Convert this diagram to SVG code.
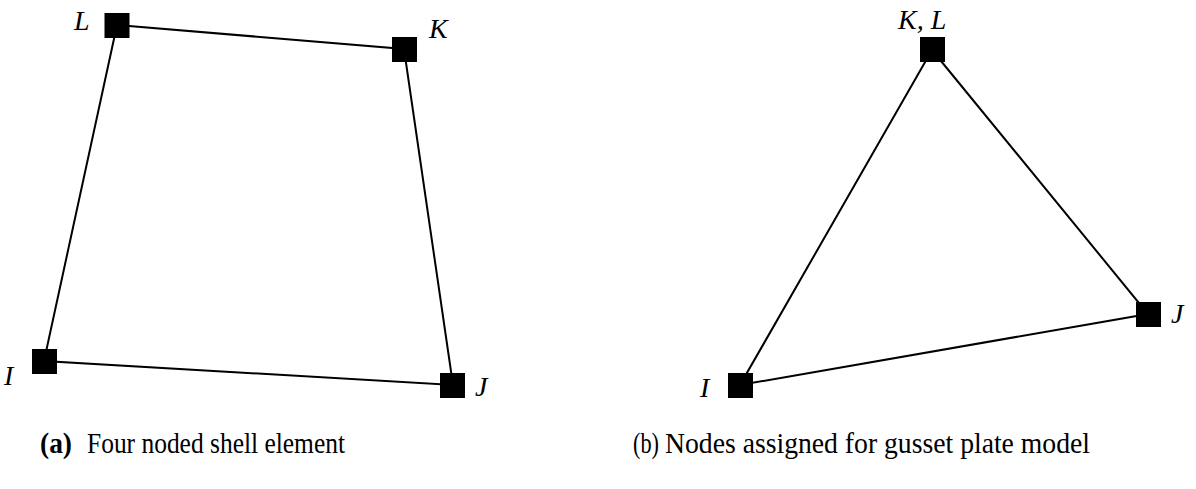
<svg xmlns="http://www.w3.org/2000/svg" width="1196" height="489" viewBox="0 0 1196 489">
<style>
.edge{stroke:#000;stroke-width:2;fill:none}
.nd{fill:#000}
.lbl{font-family:"Liberation Serif",serif;font-style:italic;font-size:28px;fill:#000}
.cap{font-family:"Liberation Serif",serif;font-size:30px;fill:#000}
</style>
<rect width="1196" height="489" fill="#fff"/>
<g id="connectors">
<polyline class="edge" points="117,25 404,49 453,385 44,361 117,25"/>
<polyline class="edge" points="932,50 1148,314 740,385 932,50"/>
</g>
<g id="a-L"><rect class="nd" x="104.5" y="13" width="25" height="25"/><text class="lbl" x="74" y="30">L</text></g>
<g id="a-K"><rect class="nd" x="392" y="37" width="25" height="25"/><text class="lbl" x="429" y="38">K</text></g>
<g id="a-I"><rect class="nd" x="32" y="349" width="25" height="25"/><text class="lbl" x="4" y="385">I</text></g>
<g id="a-J"><rect class="nd" x="440" y="373" width="25" height="25"/><text class="lbl" x="475" y="396">J</text></g>
<g id="b-KL"><rect class="nd" x="920" y="37" width="25" height="25"/><text class="lbl" x="898" y="29">K,  L</text></g>
<g id="b-I"><rect class="nd" x="728" y="373" width="25" height="25"/><text class="lbl" x="700" y="397">I</text></g>
<g id="b-J"><rect class="nd" x="1136" y="302" width="25" height="25"/><text class="lbl" x="1171" y="323">J</text></g>
<g id="captions">
<text class="cap" x="40" y="453" textLength="32" lengthAdjust="spacingAndGlyphs" font-weight="bold">(a)</text>
<text class="cap" x="87" y="453" textLength="258" lengthAdjust="spacingAndGlyphs">Four noded shell element</text>
<text class="cap" x="633" y="453" textLength="26" lengthAdjust="spacingAndGlyphs">(b)</text>
<text class="cap" x="665" y="453" textLength="425" lengthAdjust="spacingAndGlyphs">Nodes assigned for gusset plate model</text>
</g>
</svg>
